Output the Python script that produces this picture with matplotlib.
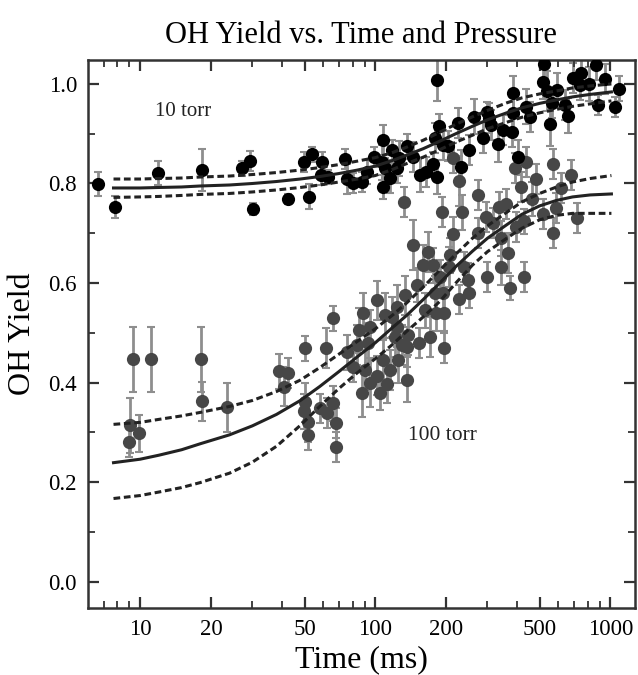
import matplotlib.pyplot as plt
import numpy as np

plt.rcParams['font.family'] = ['Liberation Serif', 'DejaVu Serif']

# 10 torr measurements: time (ms), OH yield, error
t10 = [6.6, 7.8, 11.9, 18.3, 27.1, 29.3, 30.2, 42.5, 49.7, 53.8,
       59.3, 52.2, 58.7, 62.9, 74.2, 75.7, 80.3, 87.6, 92.0, 98.5,
       107.6, 106.6, 109.7, 115.2, 117.5, 107.6, 123.4, 125.9, 136.1, 144.3,
       154.5, 163.8, 175.4, 182.4, 178.9, 186.1, 193.4, 203.2, 182.4, 224,
       230.7, 249.5, 262, 286, 300, 306, 312, 331, 348, 384,
       387, 380, 403, 436, 457, 519, 524, 540, 551, 562,
       590, 638, 657, 690, 753, 745, 814, 872, 889, 952,
       1050, 1092]
y10 = [0.799, 0.753, 0.821, 0.827, 0.831, 0.845, 0.748, 0.769, 0.843, 0.859,
       0.843, 0.773, 0.817, 0.813, 0.849, 0.809, 0.801, 0.803, 0.823, 0.853,
       0.887, 0.843, 0.831, 0.811, 0.867, 0.793, 0.831, 0.851, 0.875, 0.853,
       0.817, 0.823, 0.839, 0.813, 0.891, 0.915, 0.877, 0.875, 1.008, 0.922,
       0.833, 0.867, 0.934, 0.891, 0.944, 0.932, 0.918, 0.879, 0.907, 0.942,
       0.982, 0.903, 0.853, 0.954, 0.934, 1.004, 1.040, 0.986, 0.920, 0.962,
       0.988, 0.958, 0.936, 1.012, 1.022, 0.998, 1.000, 1.038, 0.958, 1.010,
       0.954, 0.990]
e10 = [0.025, 0.022, 0.025, 0.042, 0.015, 0.02, 0.012, 0.01, 0.02, 0.015,
       0.02, 0.025, 0.02, 0.015, 0.02, 0.03, 0.02, 0.02, 0.025, 0.02,
       0.03, 0.035, 0.02, 0.03, 0.02, 0.025, 0.03, 0.035, 0.025, 0.03,
       0.035, 0.03, 0.025, 0.035, 0.03, 0.025, 0.03, 0.03, 0.042, 0.03,
       0.035, 0.03, 0.035, 0.03, 0.02, 0.03, 0.03, 0.035, 0.03, 0.035,
       0.035, 0.03, 0.035, 0.035, 0.03, 0.035, 0.03, 0.04, 0.045, 0.03,
       0.035, 0.03, 0.035, 0.03, 0.03, 0.03, 0.035, 0.03, 0.02, 0.03,
       0.02, 0.025]

# 100 torr measurements
t100 = [8.98, 9.07, 9.90, 9.34, 11.1, 18.2, 18.3, 23.4, 38.9, 42.5,
        40.9, 50.2, 61.6, 66.0, 50.2, 49.7, 51.7, 51.7, 58.1, 62.2,
        66.0, 67.9, 67.9, 75.7, 80.3, 83.4, 85.1, 87.6, 88.5, 94.8,
        92.9, 90.2, 94.8, 101.5, 101.5, 104.5, 107.6, 109.7, 111.9, 115.2,
        117.5, 123.4, 123.4, 121.0, 124.6, 129.5, 133.4, 136.1, 136.1, 138,
        153.0, 162.2, 170.3, 180.6, 195.3, 195.3, 178.9, 193.4, 187.8, 132.1,
        144.3, 150.0, 159.1, 167.1, 175.4, 207.2, 205.1, 213.3, 191.6, 232.9,
        213.3, 226.2, 272.4, 237.5, 247.0, 250, 226.2, 294.5, 272.4, 297.4,
        315.4, 341.1, 341.1, 365.2, 358.1, 334.4, 372.4, 395.0, 427.0, 427.0,
        391.1, 414.8, 435.5, 461.8, 480.2, 514.3, 572.7, 589.8, 619.4, 572.7,
        682.9, 724.1]
y100 = [0.280, 0.314, 0.298, 0.447, 0.447, 0.447, 0.362, 0.350, 0.423, 0.419,
        0.392, 0.469, 0.469, 0.529, 0.360, 0.342, 0.320, 0.294, 0.348, 0.338,
        0.358, 0.318, 0.270, 0.461, 0.431, 0.475, 0.505, 0.380, 0.539, 0.511,
        0.479, 0.425, 0.400, 0.414, 0.565, 0.380, 0.445, 0.535, 0.398, 0.425,
        0.531, 0.551, 0.511, 0.491, 0.445, 0.475, 0.575, 0.406, 0.471, 0.495,
        0.479, 0.545, 0.491, 0.539, 0.539, 0.469, 0.579, 0.579, 0.612, 0.763,
        0.676, 0.596, 0.636, 0.662, 0.636, 0.656, 0.632, 0.698, 0.742, 0.742,
        0.851, 0.805, 0.777, 0.632, 0.606, 0.579, 0.567, 0.732, 0.700, 0.612,
        0.720, 0.632, 0.690, 0.660, 0.759, 0.753, 0.590, 0.712, 0.724, 0.612,
        0.831, 0.793, 0.843, 0.769, 0.809, 0.738, 0.839, 0.751, 0.791, 0.700,
        0.817, 0.730]
e100 = [0.03, 0.055, 0.037, 0.065, 0.065, 0.065, 0.04, 0.05, 0.035, 0.03,
        0.04, 0.025, 0.04, 0.025, 0.04, 0.035, 0.04, 0.03, 0.03, 0.03,
        0.035, 0.03, 0.03, 0.035, 0.03, 0.04, 0.045, 0.05, 0.04, 0.035,
        0.04, 0.04, 0.05, 0.04, 0.04, 0.035, 0.04, 0.045, 0.04, 0.04,
        0.04, 0.045, 0.04, 0.04, 0.045, 0.04, 0.04, 0.045, 0.04, 0.04,
        0.03, 0.035, 0.04, 0.035, 0.035, 0.03, 0.035, 0.04, 0.035, 0.03,
        0.05, 0.035, 0.04, 0.04, 0.035, 0.035, 0.04, 0.035, 0.03, 0.035,
        0.03, 0.05, 0.03, 0.03, 0.035, 0.03, 0.03, 0.03, 0.03, 0.03,
        0.03, 0.035, 0.035, 0.04, 0.03, 0.03, 0.025, 0.03, 0.025, 0.03,
        0.03, 0.03, 0.03, 0.035, 0.03, 0.03, 0.03, 0.03, 0.03, 0.03,
        0.03, 0.03]

# fitted curves with confidence band
fit_t = [7.7, 10, 12, 15, 18, 24, 30, 38, 48, 58, 70, 84, 100, 118, 136,
         160, 188, 220, 259, 300, 362, 420, 500, 590, 690, 820, 1010]
fit10 = [0.791, 0.791, 0.792, 0.793, 0.795, 0.797, 0.800, 0.804, 0.809,
         0.814, 0.820, 0.827, 0.835, 0.846, 0.857, 0.870, 0.885, 0.900,
         0.915, 0.928, 0.942, 0.952, 0.961, 0.968, 0.974, 0.979, 0.984]
fit10_hi = [0.809, 0.809, 0.810, 0.811, 0.813, 0.815, 0.818, 0.822, 0.827,
            0.832, 0.838, 0.845, 0.852, 0.862, 0.873, 0.887, 0.903, 0.919,
            0.934, 0.947, 0.962, 0.972, 0.980, 0.986, 0.992, 0.996, 1.000]
fit10_lo = [0.772, 0.773, 0.774, 0.776, 0.778, 0.780, 0.783, 0.787, 0.792,
            0.797, 0.803, 0.809, 0.816, 0.828, 0.840, 0.853, 0.868, 0.883,
            0.897, 0.910, 0.923, 0.933, 0.942, 0.949, 0.955, 0.960, 0.966]
fit100 = [0.239, 0.246, 0.254, 0.265, 0.277, 0.295, 0.313, 0.336, 0.364,
          0.392, 0.422, 0.452, 0.480, 0.510, 0.535, 0.567, 0.600, 0.633,
          0.664, 0.690, 0.717, 0.738, 0.755, 0.766, 0.773, 0.777, 0.779]
fit100_hi = [0.316, 0.320, 0.326, 0.333, 0.340, 0.352, 0.364, 0.382, 0.405,
             0.430, 0.457, 0.483, 0.508, 0.535, 0.560, 0.592, 0.626, 0.658,
             0.690, 0.715, 0.742, 0.763, 0.780, 0.793, 0.803, 0.810, 0.816]
fit100_lo = [0.167, 0.173, 0.180, 0.189, 0.199, 0.218, 0.240, 0.272, 0.314,
             0.352, 0.388, 0.420, 0.448, 0.476, 0.503, 0.532, 0.563, 0.600,
             0.636, 0.663, 0.690, 0.710, 0.727, 0.736, 0.740, 0.740, 0.740]

xmajor = [10, 20, 50, 100, 200, 500, 1000]
xminor = [7, 8, 9, 30, 40, 60, 70, 80, 90, 300, 400, 600, 700, 800, 900]

fig = plt.figure(figsize=(6.38, 6.75), dpi=100)
ax = fig.add_axes([0.138, 0.1, 0.857, 0.811])

ax.errorbar(t100, y100, yerr=e100, fmt='none', ecolor='#8e8e8e',
            elinewidth=2, capsize=3, capthick=1.5, zorder=1)
ax.errorbar(t10, y10, yerr=e10, fmt='none', ecolor='#8e8e8e',
            elinewidth=2, capsize=3, capthick=1.5, zorder=1)
ax.plot(t100, y100, 'o', color='#474747', ms=9.5, mew=0, zorder=2)
ax.plot(t10, y10, 'o', color='black', ms=9.5, mew=0, zorder=3)

for ys, ls in [(fit10, '-'), (fit10_hi, '--'), (fit10_lo, '--'),
               (fit100, '-'), (fit100_hi, '--'), (fit100_lo, '--')]:
    line, = ax.plot(fit_t, ys, ls, color='#222222', lw=2.2, zorder=4)
    if ls == '--':
        line.set_dashes((2.2, 1.2))

ax.text(15.2, 0.944, '10 torr', fontsize=15, ha='center', va='center', color='#222222')
ax.text(193, 0.294, '100 torr', fontsize=15.5, ha='center', va='center', color='#222222')

ax.set_xscale('log')
ax.set_xlim(6.0, 1270)
ax.set_ylim(-0.052, 1.048)
ax.set_xticks(xmajor)
ax.set_xticklabels([str(v) for v in xmajor])
ax.set_xticks(xminor, minor=True)
ax.xaxis.set_minor_formatter(plt.NullFormatter())
ax.set_yticks(np.arange(0, 1.01, 0.2))
ax.set_yticks(np.arange(0.1, 1.01, 0.2), minor=True)
ax.yaxis.set_major_formatter(plt.FormatStrFormatter('%.1f'))

ax.tick_params(which='both', direction='in', top=True, right=True,
               color='#333333', labelsize=16.5)
ax.tick_params(which='major', length=8, width=1.6, pad=8)
ax.tick_params(which='minor', length=5, width=1.3)
for s in ax.spines.values():
    s.set_linewidth(1.8)
    s.set_color('#333333')

ax.set_title('OH Yield vs. Time and Pressure', fontsize=22, pad=12)
ax.set_xlabel('Time (ms)', fontsize=23, labelpad=4)
ax.set_ylabel('OH Yield', fontsize=23, labelpad=8)

fig.savefig('out.png', dpi=100)
